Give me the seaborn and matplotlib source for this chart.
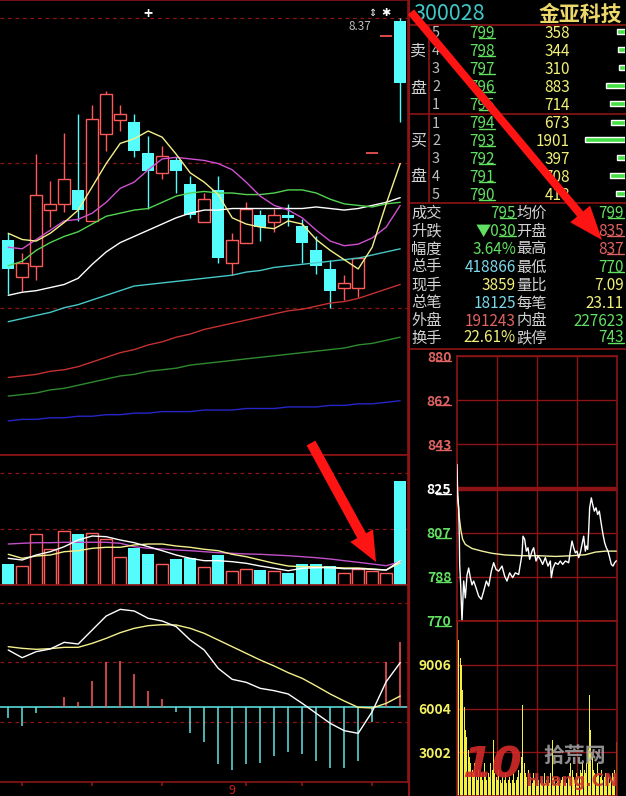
import numpy as np
import pandas as pd
import matplotlib
matplotlib.use("Agg")
import matplotlib.pyplot as plt
import matplotlib.transforms as mtransforms
import seaborn as sns
from matplotlib.patches import FancyArrow

# ---------------- daily K-line data (price, yuan) ----------------
days = list(range(29))
opens = [6.94, 6.70, 6.77, 7.13, 7.17, 7.26, 7.06, 7.62, 7.71, 7.70, 7.50, 7.37, 7.45, 7.30, 7.05,
         7.26, 6.79, 6.92, 7.10, 7.05, 7.10, 7.03, 6.87, 6.75, 6.63, 6.63, 7.50, 8.25, 8.35]
highs = [6.98, 6.85, 7.49, 7.32, 7.63, 7.75, 7.81, 7.90, 7.81, 7.75, 7.61, 7.54, 7.47, 7.35, 7.24,
         7.35, 6.98, 7.18, 7.13, 7.14, 7.17, 7.07, 6.96, 6.81, 6.71, 6.82, 7.50, 8.25, 8.37]
lows = [6.59, 6.61, 6.68, 7.02, 7.12, 7.06, 7.06, 7.51, 7.64, 7.47, 7.14, 7.33, 7.24, 7.08, 7.05,
        6.79, 6.71, 6.92, 6.93, 6.99, 7.03, 6.79, 6.72, 6.50, 6.55, 6.57, 7.50, 8.25, 7.70]
closes = [6.75, 6.79, 7.23, 7.17, 7.33, 7.13, 7.72, 7.88, 7.75, 7.51, 7.38, 7.48, 7.38, 7.10, 7.20,
          6.82, 6.94, 7.14, 7.02, 7.10, 7.08, 6.92, 6.77, 6.61, 6.66, 6.82, 7.50, 8.25, 7.95]

ma5 = [6.98, 6.94, 6.93, 6.98, 7.05, 7.13, 7.28, 7.43, 7.56, 7.59, 7.64, 7.60, 7.49, 7.37, 7.31,
       7.23, 7.08, 7.04, 7.02, 7.01, 7.06, 7.04, 6.94, 6.87, 6.81, 6.75, 6.89, 7.17, 7.43]
ma10 = [6.89, 6.88, 6.94, 7.00, 7.06, 7.07, 7.11, 7.18, 7.27, 7.31, 7.39, 7.46, 7.47, 7.46, 7.45,
        7.43, 7.39, 7.31, 7.22, 7.16, 7.13, 7.08, 7.00, 6.93, 6.90, 6.91, 6.95, 7.02, 7.16]
ma20 = [6.77, 6.80, 6.87, 6.92, 6.96, 6.99, 7.04, 7.09, 7.11, 7.13, 7.14, 7.18, 7.22, 7.24, 7.25,
        7.24, 7.24, 7.23, 7.23, 7.24, 7.26, 7.26, 7.24, 7.20, 7.17, 7.16, 7.15, 7.17, 7.18]
ma30 = [6.58, 6.60, 6.61, 6.63, 6.65, 6.69, 6.78, 6.86, 6.92, 6.96, 7.00, 7.04, 7.08, 7.11, 7.13,
        7.13, 7.14, 7.14, 7.14, 7.14, 7.14, 7.14, 7.15, 7.14, 7.13, 7.14, 7.16, 7.18, 7.21]
ma60 = [6.41, 6.43, 6.45, 6.47, 6.50, 6.52, 6.55, 6.58, 6.61, 6.64, 6.65, 6.66, 6.67, 6.68, 6.69,
        6.70, 6.71, 6.73, 6.74, 6.76, 6.77, 6.78, 6.79, 6.80, 6.81, 6.82, 6.84, 6.86, 6.88]
ma120 = [6.05, 6.06, 6.07, 6.09, 6.10, 6.12, 6.15, 6.18, 6.21, 6.23, 6.26, 6.28, 6.31, 6.33, 6.36,
         6.38, 6.40, 6.42, 6.44, 6.46, 6.48, 6.49, 6.51, 6.53, 6.54, 6.56, 6.59, 6.62, 6.65]
ma180 = [5.93, 5.94, 5.95, 5.97, 5.98, 6.00, 6.02, 6.04, 6.06, 6.07, 6.09, 6.10, 6.11, 6.13, 6.14,
         6.15, 6.16, 6.17, 6.18, 6.19, 6.20, 6.21, 6.22, 6.23, 6.24, 6.26, 6.27, 6.29, 6.31]
ma250 = [5.77, 5.78, 5.78, 5.79, 5.79, 5.80, 5.80, 5.81, 5.81, 5.82, 5.82, 5.83, 5.83, 5.83, 5.84,
         5.84, 5.84, 5.85, 5.85, 5.85, 5.86, 5.86, 5.86, 5.87, 5.87, 5.88, 5.88, 5.89, 5.90]

# ---------------- volume (hands) ----------------
vols = [84600, 75300, 204200, 143800, 217500, 205400, 209400, 186500, 111600, 147800, 126100, 83400,
        105900, 107500, 71300, 122000, 55200, 64400, 60400, 55200, 49500, 84600, 84600, 76500, 48300,
        63200, 57600, 48300, 418866]
vma_a = [107500, 100700, 120800, 134100, 154300, 181300, 197400, 194500, 181300, 170400, 154300, 138200,
         120800, 107500, 97900, 97900, 93900, 87400, 76500, 67300, 57600, 67300, 69700, 69700, 65700,
         65700, 63200, 60400, 97900]
vma_b = [123700, 107500, 116800, 120800, 134100, 138200, 147800, 151900, 151900, 161100, 165100, 165100,
         157100, 151900, 143800, 138200, 123700, 114000, 100700, 87400, 76500, 73700, 73700, 71300, 68500,
         68500, 64400, 60400, 89800]
vma_c = [165100, 168000, 170400, 170400, 172000, 172000, 172000, 172000, 168000, 154300, 147800, 145000,
         141000, 138200, 134100, 130100, 127700, 124900, 123700, 120800, 118000, 114000, 110000, 104700,
         97900, 91400, 84600, 77700, 93900]

# ---------------- MACD ----------------
dif = [0.172, 0.149, 0.167, 0.175, 0.195, 0.190, 0.232, 0.274, 0.294, 0.289, 0.267, 0.259, 0.242, 0.202,
       0.172, 0.117, 0.084, 0.075, 0.057, 0.050, 0.040, 0.012, -0.018, -0.048, -0.070, -0.078, -0.013,
       0.077, 0.134]
dea = [0.182, 0.177, 0.174, 0.176, 0.180, 0.180, 0.192, 0.207, 0.224, 0.237, 0.245, 0.248, 0.247, 0.237,
       0.222, 0.202, 0.182, 0.162, 0.142, 0.124, 0.104, 0.087, 0.064, 0.040, 0.019, 0.000, -0.002,
       0.012, 0.034]
macd = [-0.031, -0.055, -0.016, 0.003, 0.032, 0.016, 0.080, 0.135, 0.139, 0.101, 0.050, 0.026, -0.013,
        -0.076, -0.103, -0.170, -0.188, -0.169, -0.166, -0.145, -0.134, -0.140, -0.160, -0.183, -0.183,
        -0.160, -0.043, 0.135, 0.197]
week_ticks = [1, 6, 11, 17, 21, 26]
month_label_pos = 16
month_label = "9"

# ---------------- quote board ----------------
stock_code = "300028"
stock_name = "金亚科技"
ask_levels = ["5", "4", "3", "2", "1"]
ask_prices = ["799", "798", "797", "796", "795"]
ask_vols = [358, 344, 310, 883, 714]
bid_levels = ["1", "2", "3", "4", "5"]
bid_prices = ["794", "793", "792", "791", "790"]
bid_vols = [673, 1901, 397, 708, 418]
stat_left_names = ["成交", "升跌", "幅度", "总手", "现手", "总笔", "外盘", "换手"]
stat_left_vals = ["795", "▼030", "3.64%", "418866", "3859", "18125", "191243", "22.61%"]
stat_right_names = ["均价", "开盘", "最高", "最低", "量比", "每笔", "内盘", "跌停"]
stat_right_vals = ["799", "835", "837", "770", "7.09", "23.11", "227623", "743"]

# ---------------- intraday (price in 0.01 yuan, minutes from open) ----------------
intra_min = [0, 1, 2.5, 3.5, 4, 5.5, 7.5, 10, 12.5, 15, 17.5, 20, 22.5, 25, 28.5, 32.5, 36.5, 40, 44,
             47.5, 51.5, 55, 58.5, 62.5, 67.5, 71.5, 75, 79, 83.5, 87.5, 92.5, 95, 97.5, 99, 101.5, 104,
             106.5, 109, 112.5, 115, 118.5, 121.5, 125, 128.5, 132.5, 136.5, 140, 141.5, 144, 147.5,
             151.5, 155, 158.5, 162.5, 167.5, 170, 172.5, 175, 177.5, 180, 182.5, 185, 187.5, 190,
             192.5, 194, 196, 197.5, 199, 201.5, 203.5, 206, 208.5, 211, 213.5, 216.5, 219, 221.5, 224,
             226.5, 229, 231.5, 234, 236.5, 239]
intra_price = [835, 822.5, 817, 804.5, 793.5, 785, 770, 786.6, 779.6, 789, 792, 788, 785, 786.6, 783.8,
               780.3, 779, 782.4, 786.6, 784.5, 790.7, 794.2, 791.4, 790.7, 792.8, 788.6, 786.6, 790, 788,
               790, 789.3, 793.5, 797.6, 805.2, 803.9, 799, 800.4, 795.6, 799, 800.4, 794.9, 797, 795.6,
               793.5, 796.3, 792.8, 794.9, 788, 792, 794.2, 793.5, 794.9, 793.5, 794.9, 794.2, 799, 803.2,
               800.4, 798.3, 799, 796.3, 798.3, 801.8, 805.2, 799, 801.1, 799.7, 807.3, 817, 821.1, 818.4,
               815.6, 817, 814.2, 815.6, 810.1, 805.9, 802.5, 800.4, 799, 796.3, 793.5, 792.8, 794.2, 795]
avg_min = [0, 1.5, 3.5, 6, 8.5, 12.5, 22.5, 37.5, 52.5, 72.5, 97.5, 122.5, 147.5, 172.5, 192.5, 207.5,
           222.5, 239]
avg_price = [826.7, 819.8, 812.8, 807.3, 803.9, 801.8, 800.1, 799.0, 798.1, 797.4, 797.1, 797.1, 796.8,
             797.1, 797.5, 798.6, 799.0, 799.0]
intra_vol = [11960, 10700, 9500, 8990, 7270, 6130, 4530, 4070, 3160, 2700, 2240, 1780, 1550, 2240, 1330,
             1100, 1780, 1330, 1550, 1100, 2240, 1330, 1100, 1550, 1330, 2240, 1780, 3840, 1550, 1330,
             1100, 1780, 1100, 870, 1330, 1100, 1550, 870, 1100, 1330, 870, 1100, 1550, 870, 1100, 1330,
             1780, 1550, 2700, 6240, 2240, 1550, 1330, 1780, 1100, 1330, 870, 1550, 1100, 870, 1330, 1100,
             870, 1330, 1100, 1550, 870, 1100, 1330, 870, 1550, 3840, 1330, 1100, 870, 1330, 1100, 870,
             1100, 1330, 870, 1100, 870, 1330, 1550, 2240, 1780, 1330, 1100, 1550, 1100, 1330, 1780, 1550,
             2240, 1780, 1550, 2240, 3160, 6930, 4530, 2700, 1780, 1550, 1330, 2240, 1550, 1330, 1780,
             1100, 1330, 1550, 1100, 1330, 870, 1100, 1550, 1330, 1780, 3730]
intra_vol_min = [2 * i for i in range(len(intra_vol))]
price_levels = [880, 861.67, 843.33, 825, 806.67, 788.33, 770]
price_labels = ["880", "862", "843", "825", "807", "788", "770"]
vol_levels = [3002, 6004, 9006]
prev_close = 825

# ---------------- style ----------------
W, H = 626, 796
sns.set_theme(style="dark", rc={"axes.facecolor": "black", "figure.facecolor": "black",
                                "savefig.facecolor": "black"})
plt.rcParams['font.family'] = ['Noto Sans CJK SC', 'DejaVu Sans']

BORDER = '#8c1414'
RED = '#ff5a5a'
CYAN = '#54fcfc'
GREEN_T = '#62e062'
YELLOW_T = '#f2f078'
CYAN_T = '#7ad8ea'
RED_T = '#e06262'
LABEL = '#d2d2d2'

fig = plt.figure(figsize=(W / 100, H / 100), dpi=100)


def box(x0, y0, x1, y1):
    return [x0 / W, 1 - y1 / H, (x1 - x0) / W, (y1 - y0) / H]


def style(ax):
    ax.set_facecolor('black')
    for s in ax.spines.values():
        s.set_color(BORDER)
        s.set_linewidth(1.2)
    ax.set_xticks([])
    ax.set_yticks([])
    ax.grid(False)


XL = (-0.586, 28.557)
BW = 0.83
DASH = (0, (3, 3))
underlined = []   # (text artist, number of trailing characters to underline)

# ---------- candle panel ----------
ax_k = fig.add_axes(box(0, 0, 408, 455))
style(ax_k)
ax_k.spines['left'].set_visible(False)
ax_k.set_xlim(*XL)
ax_k.set_ylim(5.55, 8.485)
hi, lo = max(highs), min(lows)
for lvl in (hi, (hi + lo) / 2, lo):
    ax_k.axhline(lvl, color=BORDER, ls=DASH, lw=0.9)

for i in days:
    o, h, l, c = opens[i], highs[i], lows[i], closes[i]
    if h == l:
        ax_k.hlines(o, i - BW / 2, i + BW / 2, color=RED, lw=1.2, zorder=3)
    elif c > o:
        ax_k.vlines(i, c, h, color=RED, lw=1, zorder=3)
        ax_k.vlines(i, l, o, color=RED, lw=1, zorder=3)
        ax_k.bar(i, c - o, bottom=o, width=BW, facecolor='black', edgecolor=RED, lw=1, zorder=3)
    else:
        ax_k.vlines(i, l, h, color=CYAN, lw=1, zorder=3)
        ax_k.bar(i, max(o - c, 0.012), bottom=c, width=BW, color=CYAN, lw=0, zorder=3)

ma_df = pd.DataFrame({"day": days, "MA5": ma5, "MA10": ma10, "MA20": ma20, "MA30": ma30,
                      "MA60": ma60, "MA120": ma120, "MA180": ma180, "MA250": ma250})
ma_colors = {"MA250": '#2626c8', "MA180": '#2f8a2f', "MA120": '#c43030', "MA60": '#46c8c8',
             "MA30": '#ffffff', "MA20": '#52d452', "MA10": '#d050d0', "MA5": '#f4f08a'}
for name, col in ma_colors.items():
    sns.lineplot(data=ma_df, x="day", y=name, color=col, linewidth=1.0, ax=ax_k, zorder=4)
ax_k.set_xlabel("")
ax_k.set_ylabel("")

# ---------- volume panel ----------
ax_v = fig.add_axes(box(0, 455, 408, 585))
style(ax_v)
ax_v.spines['left'].set_visible(False)
ax_v.set_xlim(*XL)
ax_v.set_ylim(0, 523640)
for lvl in (225500, 451000):
    ax_v.axhline(lvl, color=BORDER, ls=DASH, lw=0.9)
for i in days:
    if closes[i] >= opens[i]:
        ax_v.bar(i, vols[i], width=BW, facecolor='black', edgecolor=RED, lw=1, zorder=3)
    else:
        ax_v.bar(i, vols[i], width=BW, color=CYAN, lw=0, zorder=3)
vdf = pd.DataFrame({"day": days, "a": vma_a, "b": vma_b, "c": vma_c})
sns.lineplot(data=vdf, x="day", y="c", color='#c050c8', linewidth=1.0, ax=ax_v, zorder=4)
sns.lineplot(data=vdf, x="day", y="b", color='#f4f08a', linewidth=1.0, ax=ax_v, zorder=4)
sns.lineplot(data=vdf, x="day", y="a", color='#ffffff', linewidth=1.0, ax=ax_v, zorder=4)
ax_v.set_xlabel("")
ax_v.set_ylabel("")

# ---------- MACD panel ----------
ax_m = fig.add_axes(box(0, 585, 408, 782))
style(ax_m)
ax_m.spines['left'].set_visible(False)
ax_m.set_xlim(*XL)
ax_m.set_ylim(-0.224, 0.367)
for lvl in (0.313, 0.136, -0.043):
    ax_m.axhline(lvl, color=BORDER, ls=DASH, lw=0.9)
ax_m.axhline(0, color='#5cd8d8', lw=1.2, zorder=2)
for i in days:
    ax_m.vlines(i, 0, macd[i], color=(RED if macd[i] > 0 else '#60e4e4'), lw=1.1, zorder=3)
mdf = pd.DataFrame({"day": days, "DIF": dif, "DEA": dea})
sns.lineplot(data=mdf, x="day", y="DEA", color='#f4f08a', linewidth=1.0, ax=ax_m, zorder=4)
sns.lineplot(data=mdf, x="day", y="DIF", color='#ffffff', linewidth=1.0, ax=ax_m, zorder=4)
ax_m.set_xlabel("")
ax_m.set_ylabel("")
ax_m.set_xticks(week_ticks)
ax_m.tick_params(axis='x', length=3, color=BORDER, direction='out', labelbottom=False, bottom=True)
trans = mtransforms.blended_transform_factory(ax_m.transData, ax_m.transAxes)
ax_m.text(month_label_pos, -0.012, month_label, transform=trans, ha='center', va='top',
          color='#c82020', fontsize=9)

# ---------- right text board ----------
ax_r = fig.add_axes(box(408, 0, 626, 796))
ax_r.set_xlim(408, 626)
ax_r.set_ylim(796, 0)
ax_r.axis('off')
ax_r.axvline(409, color=BORDER, lw=1.5)
for yy in (25, 114, 203, 349):
    ax_r.axhline(yy, color=BORDER, lw=1.2)
ax_r.vlines(429, 25, 203, color=BORDER, lw=1.2)

ax_r.text(413, 14, stock_code, color='#3ec8c8', fontsize=15.5, ha='left', va='center')
ax_r.text(622, 14, stock_name, color='#ecd86a', fontsize=15, ha='right', va='center',
          fontweight='bold')

ask_rows = [33, 51, 69, 87, 105]
bid_rows = [124, 141, 159, 177, 195]
ax_r.text(418, 51, "卖", color=LABEL, fontsize=11.5, ha='center', va='center')
ax_r.text(418, 88, "盘", color=LABEL, fontsize=11.5, ha='center', va='center')
ax_r.text(418, 141, "买", color=LABEL, fontsize=11.5, ha='center', va='center')
ax_r.text(418, 177, "盘", color=LABEL, fontsize=11.5, ha='center', va='center')
for rows, lv, pr, vv in ((ask_rows, ask_levels, ask_prices, ask_vols),
                         (bid_rows, bid_levels, bid_prices, bid_vols)):
    for y, a, p, v in zip(rows, lv, pr, vv):
        ax_r.text(432, y, a, color='#bdbdbd', fontsize=10.5, ha='left', va='center')
        t = ax_r.text(495, y, p, color=GREEN_T, fontsize=11, ha='right', va='center')
        underlined.append((t, 2))
        ax_r.text(570, y, str(v), color=YELLOW_T, fontsize=11, ha='right', va='center')

# order-book bars
ax_ob = fig.add_axes(box(560, 25, 625, 203))
ax_ob.axis('off')
ax_ob.set_xlim(3100, 0)
ax_ob.set_ylim(203, 25)
ax_ob.barh([r - 2 for r in ask_rows], ask_vols, height=5, color='#44e044')
ax_ob.barh([r - 2 for r in bid_rows], bid_vols, height=5, color='#44e044')

stat_rows = [213, 231, 249, 267, 285, 303, 321, 338]
left_cols = [GREEN_T, GREEN_T, GREEN_T, CYAN_T, YELLOW_T, CYAN_T, RED_T, YELLOW_T]
right_cols = [GREEN_T, RED_T, RED_T, GREEN_T, YELLOW_T, YELLOW_T, GREEN_T, GREEN_T]
left_ul = [True, True, False, False, False, False, False, False]
right_ul = [True, True, True, True, False, False, False, True]
for y, n1, v1, c1, u1, n2, v2, c2, u2 in zip(stat_rows, stat_left_names, stat_left_vals, left_cols,
                                             left_ul, stat_right_names, stat_right_vals, right_cols,
                                             right_ul):
    ax_r.text(411, y, n1, color=LABEL, fontsize=11, ha='left', va='center')
    t1 = ax_r.text(516, y, v1, color=c1, fontsize=11, ha='right', va='center')
    ax_r.text(516, y, n2, color=LABEL, fontsize=11, ha='left', va='center')
    t2 = ax_r.text(624, y, v2, color=c2, fontsize=11, ha='right', va='center')
    if u1:
        underlined.append((t1, 2))
    if u2:
        underlined.append((t2, 2))

# ---------- intraday price ----------
ax_p = fig.add_axes(box(457, 356, 617, 621))
style(ax_p)
ax_p.set_xlim(0, 240)
ax_p.set_ylim(770, 880)
for lvl in price_levels:
    ax_p.axhline(lvl, color=BORDER, lw=(3.2 if lvl == prev_close else 1.0), zorder=1)
for xv in (60, 120, 180):
    ax_p.axvline(xv, color=BORDER, lw=1.0, zorder=1)
sns.lineplot(x=avg_min, y=avg_price, color='#f0f0a0', linewidth=1.0, ax=ax_p, zorder=3)
sns.lineplot(x=intra_min, y=intra_price, color='#ffffff', linewidth=1.0, ax=ax_p, zorder=4)
ax_p.set_yticks(price_levels)
ax_p.set_yticklabels(price_labels, fontsize=10, fontweight='bold')
lab_cols = [RED_T, RED_T, RED_T, '#ffffff', GREEN_T, GREEN_T, GREEN_T]
for t, c in zip(ax_p.get_yticklabels(), lab_cols):
    t.set_color(c)
    underlined.append((t, 2))
ax_p.tick_params(axis='y', length=0, pad=4)
ax_p.set_xlabel("")
ax_p.set_ylabel("")

# ---------- intraday volume ----------
ax_iv = fig.add_axes(box(457, 621, 617, 796))
style(ax_iv)
ax_iv.set_xlim(0, 240)
ax_iv.set_ylim(0, 12008)
for lvl in vol_levels:
    ax_iv.axhline(lvl, color=BORDER, lw=1.0, zorder=1)
for xv in (60, 120, 180):
    ax_iv.axvline(xv, color=BORDER, lw=1.0, zorder=1)
ax_iv.bar(intra_vol_min, intra_vol, width=1.6, align='edge', color='#f4f040', lw=0, zorder=2)
ax_iv.set_yticks(vol_levels)
ax_iv.set_yticklabels([str(v) for v in vol_levels], fontsize=10, fontweight='bold', color='#f2f060')
ax_iv.tick_params(axis='y', length=0, pad=4)

# ---------- overlay: marks, arrows, watermark ----------
ax_o = fig.add_axes([0, 0, 1, 1])
ax_o.set_xlim(0, W)
ax_o.set_ylim(H, 0)
ax_o.axis('off')
ax_o.patch.set_alpha(0)
ax_o.text(148, 14, "+", color='white', fontsize=11, fontweight='bold', ha='center', va='center')
ax_o.text(372, 13, "⇕", color='white', fontsize=7, ha='center', va='center', family='DejaVu Sans')
ax_o.text(386, 13, "✱", color='white', fontsize=8, ha='center', va='center', family='DejaVu Sans')
ax_o.text(371, 27, "8.37", color='#bcbcbc', fontsize=8.5, ha='right', va='center')

# underline the decimal digits (software display convention)
fig.canvas.draw()
inv = ax_o.transData.inverted()
for t, n in underlined:
    bb = t.get_window_extent()
    s = t.get_text()
    frac = n / (len(s) + (0.6 if s.startswith("▼") else 0))
    (x0, y0), (x1, y1) = inv.transform([(bb.x0, bb.y0), (bb.x1, bb.y1)])
    ybase = max(y0, y1) - 3.2
    ax_o.plot([x1 - (x1 - x0) * frac + 0.5, x1 - 0.5], [ybase, ybase], color=t.get_color(), lw=1.0)

ax_o.add_patch(FancyArrow(411, 12, 191, 228, width=8, head_width=26, head_length=34,
                          length_includes_head=True, color='#ff1414', lw=0, zorder=10))
ax_o.add_patch(FancyArrow(311, 443, 65, 119, width=10, head_width=26, head_length=30,
                          length_includes_head=True, color='#ff1414', lw=0, zorder=10))

ax_o.text(492, 766, "10", color='#d42a2a', fontsize=31, fontweight='bold', fontstyle='italic',
          ha='center', va='center', alpha=0.9, family='DejaVu Sans')
ax_o.text(575, 756, "拾荒网", color='#a8a8a8', fontsize=15, fontweight='bold', ha='center',
          va='center', alpha=0.85)
ax_o.text(572, 781, "Huang.CN", color='#c83030', fontsize=12, fontweight='bold', ha='center',
          va='center', alpha=0.9, family='DejaVu Sans')

fig.savefig("out.png", dpi=100, facecolor='black')
